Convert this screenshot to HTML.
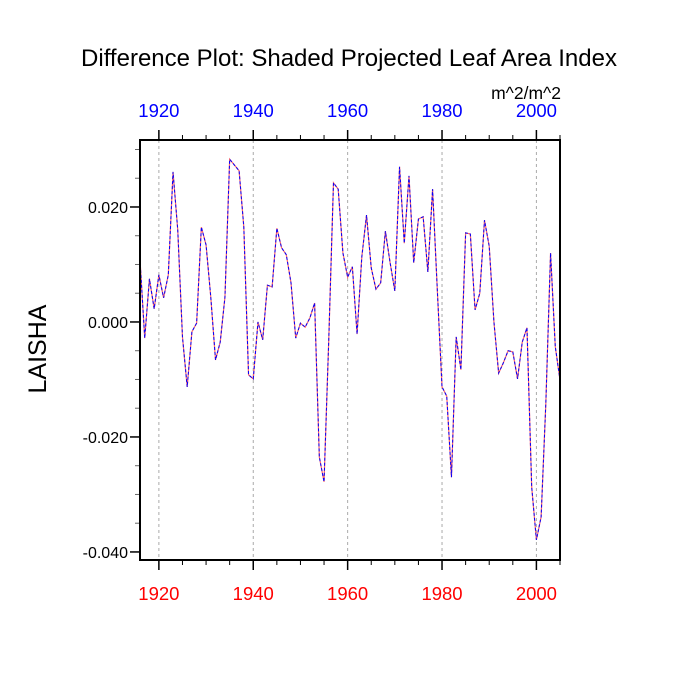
<!DOCTYPE html>
<html><head><meta charset="utf-8"><style>
body{margin:0;background:#fff;}
svg{display:block;font-family:"Liberation Sans",sans-serif;}
</style></head><body>
<svg id="chart" width="700" height="700">
<text x="349" y="66" text-anchor="middle" font-size="24">Difference Plot: Shaded Projected Leaf Area Index</text>
<text x="561" y="99" text-anchor="end" font-size="17.5">m^2/m^2</text>
<text transform="translate(46,349) rotate(-90)" text-anchor="middle" font-size="25">LAISHA</text>
<g id="grid"></g><g id="ticks"></g><g id="series"></g>
<rect x="140" y="140" width="420" height="420" fill="none" stroke="#000" stroke-width="2"/>
</svg>
<script>
const startYear = 1916;
const endYear = 2005;
const values = [0.0108,-0.0028,0.0075,0.0023,0.0082,0.0042,0.0082,0.0261,0.0160,-0.0026,
-0.0113,-0.0017,-0.0002,0.0165,0.0134,0.0043,-0.0066,-0.0035,0.0043,0.0283,
0.0273,0.0263,0.0165,-0.0092,-0.0099,0.0,-0.0031,0.0064,0.0061,0.0163,
0.0129,0.0117,0.0068,-0.0028,-0.0002,-0.0009,0.0007,0.0033,-0.0235,-0.0278,
-0.0031,0.0242,0.0231,0.0120,0.0078,0.0096,-0.0021,0.0113,0.0186,0.0094,
0.0057,0.0068,0.0158,0.0103,0.0054,0.0270,0.0137,0.0254,0.0103,0.0179,
0.0183,0.0087,0.0231,0.0056,-0.0113,-0.0129,-0.0270,-0.0026,-0.0083,0.0155,
0.0153,0.0021,0.0050,0.0177,0.0132,0.0,-0.0089,-0.0071,-0.0050,-0.0052,
-0.0099,-0.0035,-0.0010,-0.0287,-0.0379,-0.0339,-0.0141,0.0120,-0.0043,-0.0101];
const xTickYears = [1920,1940,1960,1980,2000];
const yTickValues = [0.02,0.0,-0.02,-0.04];
const yTickLabels = ["0.020","0.000","-0.020","-0.040"];
const yMin = -0.0414, yMax = 0.03165;
const L=140,R=560,T=140,B=560;
const NS="http://www.w3.org/2000/svg";
function xs(yr){return L+(yr-startYear)/(endYear-startYear)*(R-L);}
function ys(v){return B-(v-yMin)/(yMax-yMin)*(B-T);}
function mk(tag,attrs,parent){const e=document.createElementNS(NS,tag);for(const k in attrs)e.setAttribute(k,attrs[k]);parent.appendChild(e);return e;}
const grid=document.getElementById('grid'),ticks=document.getElementById('ticks'),series=document.getElementById('series');
xTickYears.forEach(yr=>{
  const x=xs(yr);
  const g=mk('line',{x1:x,x2:x,y1:T,y2:B,stroke:'#aaa','stroke-width':1,'stroke-dasharray':'3,3'},grid);
  
  
  const t1=mk('line',{x1:x,x2:x,y1:B,y2:B+10,stroke:'#000','stroke-width':1.5},ticks);
  
  
  const t2=mk('line',{x1:x,x2:x,y1:T,y2:T-10,stroke:'#000','stroke-width':1.5},ticks);
  
  
  const lb=mk('text',{x:x,y:600,'text-anchor':'middle','font-size':18.5,fill:'#f00'},ticks);
  lb.textContent=yr;
  
  
  const lt=mk('text',{x:x,y:117,'text-anchor':'middle','font-size':18.5,fill:'#00f'},ticks);
  lt.textContent=yr;
  
  
});
for(let yr=1920;yr<=endYear;yr+=5){
  if(yr%20===0)continue;
  const x=xs(yr);
  const m1=mk('line',{x1:x,x2:x,y1:B,y2:B+5,stroke:'#000','stroke-width':1},ticks);
  
  
  const m2=mk('line',{x1:x,x2:x,y1:T,y2:T-5,stroke:'#000','stroke-width':1},ticks);
  
  
}
for(let k=-8;k<=6;k++){
  const v=k*0.005;const y=ys(v);
  if(y<T||y>B)continue;
  const major=(k%4===0);
  const t=mk('line',{x1:L,x2:L-(major?10:5),y1:y,y2:y,stroke:major?'#000':'#666','stroke-width':major?1.5:1},ticks);
  
  
}
yTickValues.forEach((v,i)=>{
  const lb=mk('text',{x:128,y:ys(v)+6,'text-anchor':'end','font-size':16},ticks);
  lb.textContent=yTickLabels[i];
  
  
});
const pts=values.map((v,i)=>xs(startYear+i).toFixed(2)+','+ys(v).toFixed(2)).join(' ');
const red=mk('polyline',{points:pts,fill:'none',stroke:'#f66','stroke-width':1.2},series);


const blue=mk('polyline',{points:pts,fill:'none',stroke:'#00f','stroke-width':1,'stroke-dasharray':'3,2'},series);


</script>
</body></html>
